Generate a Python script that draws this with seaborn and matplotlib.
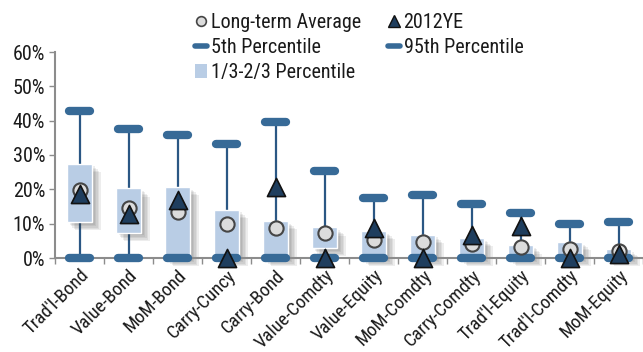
import matplotlib
matplotlib.use("Agg")
import matplotlib.pyplot as plt
import matplotlib.patheffects as pe
from matplotlib import font_manager
from matplotlib.lines import Line2D
from matplotlib.patches import Patch
from matplotlib.ticker import FixedLocator, PercentFormatter
import numpy as np
import pandas as pd
import seaborn as sns

categories = ["Trad'l-Bond", "Value-Bond", "MoM-Bond", "Carry-Cuncy", "Carry-Bond",
              "Value-Comdty", "Value-Equity", "MoM-Comdty", "Carry-Comdty",
              "Trad'l-Equity", "Trad'l-Comdty", "MoM-Equity"]
long_term_avg = [19.8, 14.6, 13.4, 10.0, 8.6, 7.4, 5.2, 4.7, 4.0, 3.1, 2.7, 2.0]
ye_2012 = [18.6, 12.7, 16.8, 0.0, 20.6, 0.0, 8.8, 0.0, 6.6, 9.3, 0.0, 1.3]
pct_5 = [0, 0, 0, 0, 0, 0, 0, 0, 0, 0, 0, 0]
pct_95 = [42.8, 37.5, 35.8, 33.2, 39.5, 25.3, 17.5, 18.3, 15.8, 13.1, 10.0, 10.4]
pct_33 = [10.5, 7.4, 0.0, 0.0, 0.0, 2.9, 0.0, 0.0, 0.0, 0.0, 0.0, 0.0]
pct_67 = [27.5, 20.3, 20.7, 14.1, 10.8, 8.9, 7.9, 6.8, 5.8, 3.7, 4.7, 2.5]

df = pd.DataFrame({"cat": categories, "avg": long_term_avg, "ye": ye_2012,
                   "p5": pct_5, "p95": pct_95, "p33": pct_33, "p67": pct_67})

sns.set_theme(style="white")

# prefer a narrow face like the original; fall back to a smaller regular one
installed = {f.name for f in font_manager.fontManager.ttflist}
narrow = [n for n in ["Liberation Sans Narrow", "Arial Narrow", "Roboto Condensed",
                      "DejaVu Sans Condensed", "Open Sans Condensed"] if n in installed]
if narrow:
    plt.rcParams["font.family"] = [narrow[0], "DejaVu Sans"]
    FS = 14.5
else:
    plt.rcParams["font.family"] = ["Liberation Sans", "DejaVu Sans"]
    FS = 12

TEXT = "#1a1a1a"
BOX = "#b9cde5"
WHISK = "#2b5784"
PBAR = "#376a97"

fig = plt.figure(figsize=(6.43, 3.52), dpi=100)
ax = fig.add_axes([55 / 643, 94 / 352, 588 / 643, 206 / 352])

pos = np.arange(len(df))

# whiskers from 5th to 95th
ax.vlines(pos, df["p5"], df["p95"], color=WHISK, lw=1.6, zorder=1)

# 1/3-2/3 box with soft drop shadow
shadow = [pe.SimplePatchShadow(offset=(o, -o), shadow_rgbFace="#404040", alpha=0.09)
          for o in (6, 5, 4, 3, 2)]
bars = ax.bar(pos, df["p67"] - df["p33"], bottom=df["p33"], width=0.52,
              color=BOX, zorder=2, clip_on=False)
for b in bars:
    b.set_path_effects(shadow + [pe.Normal()])

# 5th / 95th percentile bars
for col in ["p5", "p95"]:
    ax.hlines(df[col], pos - 0.22, pos + 0.22, color=PBAR, lw=6,
              capstyle="round", zorder=3, clip_on=False)

sns.scatterplot(data=df, x=pos, y="avg", marker="o", s=105, color="#dcdcdc",
                edgecolor="#454545", linewidth=1.5, zorder=4, ax=ax, clip_on=False,
                legend=False)
sns.scatterplot(data=df, x=pos, y="ye", marker="^", s=170, color="#1f3e5e",
                edgecolor="#111111", linewidth=1.2, zorder=5, ax=ax, clip_on=False,
                legend=False)

ax.set_xlim(-0.5, len(df) - 0.5)
ax.set_ylim(0, 60)
ax.set_yticks(np.arange(0, 61, 10))
ax.yaxis.set_major_formatter(PercentFormatter(decimals=0))
ax.set_xticks(pos)
ax.set_xticklabels(categories, rotation=45, ha="right", rotation_mode="anchor")
ax.xaxis.set_minor_locator(FixedLocator(np.arange(-0.5, len(df), 1.0)))
ax.tick_params(axis="x", which="major", length=0, pad=6, labelsize=FS - 1.0, labelcolor=TEXT)
ax.tick_params(axis="x", which="minor", length=4, width=1, color="#8c8c8c", direction="out", bottom=True)
ax.tick_params(axis="y", length=4, width=1, color="#8c8c8c", direction="out", left=True,
               labelsize=FS, labelcolor=TEXT, pad=3)
ax.set_xlabel("")
ax.set_ylabel("")
for s in ["top", "right"]:
    ax.spines[s].set_visible(False)
for s in ["left", "bottom"]:
    ax.spines[s].set_color("#8c8c8c")
    ax.spines[s].set_linewidth(1.5)

handles = [
    Line2D([], [], marker="o", ls="none", ms=7, mfc="#dcdcdc", mec="#454545", mew=1.2),
    Line2D([], [], color=PBAR, lw=4, solid_capstyle="round"),
    Patch(facecolor=BOX, edgecolor="none"),
    Line2D([], [], marker="^", ls="none", ms=8, mfc="#1f3e5e", mec="#111111", mew=1),
    Line2D([], [], color=PBAR, lw=4, solid_capstyle="round"),
]
labels = ["Long-term Average", "5th Percentile", "1/3-2/3 Percentile", "2012YE", "95th Percentile"]
fig.legend(handles, labels, ncol=2, frameon=False, loc="upper left",
           bbox_to_anchor=(182 / 643, 1.0), fontsize=FS, labelcolor=TEXT,
           handlelength=0.6, handletextpad=0.2, columnspacing=1.3 * 14.5 / FS,
           labelspacing=0.3 * 14.5 / FS + (0.35 if FS < 14 else 0),
           borderaxespad=0.25)

fig.savefig("out.png", dpi=100)
